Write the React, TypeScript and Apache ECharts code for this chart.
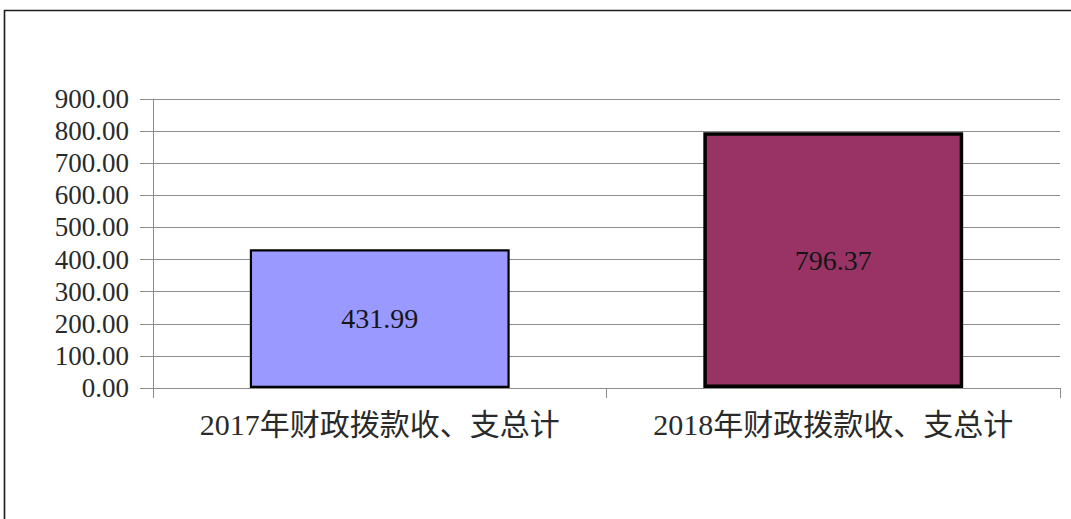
import React, { useEffect, useRef } from "react";
import * as echarts from "echarts";

const categories = ["2017年财政拨款收、支总计", "2018年财政拨款收、支总计"];
const values = [431.99, 796.37];
const barColors = ["#9999ff", "#993366"];
const barBorderWidths = [2.2, 3.5];
const yMin = 0;
const yMax = 900;
const yInterval = 100;

export default function App() {
  const ref = useRef<HTMLDivElement>(null);
  useEffect(() => {
    document.body.style.margin = "0";
    const chart = echarts.init(ref.current!, null, { renderer: "svg" });
    chart.setOption({
      animation: false,
      backgroundColor: "#ffffff",
      grid: { left: 153, right: 11, top: 99, bottom: 131 },
      graphic: [
        {
          type: "rect",
          shape: { x: 4.5, y: 10.5, width: 1200, height: 700 },
          style: { fill: "none", stroke: "#1a1a1a", lineWidth: 1.6 },
          silent: true,
        },
      ],
      xAxis: {
        type: "category",
        data: categories,
        axisLine: { show: true, lineStyle: { color: "#8c8c8c", width: 1 } },
        axisTick: { show: true, length: 10, lineStyle: { color: "#8c8c8c" } },
        axisLabel: {
          interval: 0,
          hideOverlap: false,
          fontSize: 30,
          margin: 21,
          color: "#2a2a2a",
          fontFamily: "'Liberation Serif', 'Noto Sans CJK SC', serif",
        },
      },
      yAxis: {
        type: "value",
        min: yMin,
        max: yMax,
        interval: yInterval,
        axisLine: { show: true, lineStyle: { color: "#8c8c8c", width: 1 } },
        axisTick: { show: true, length: 13, lineStyle: { color: "#8c8c8c" } },
        splitLine: { show: true, lineStyle: { color: "#8c8c8c", width: 1 } },
        axisLabel: {
          fontSize: 27,
          margin: 24,
          color: "#2a2a2a",
          fontFamily: "'Liberation Serif', serif",
          formatter: (v: number) => v.toFixed(2),
        },
      },
      series: [
        {
          type: "bar",
          barWidth: "57.3%",
          data: values.map((v, i) => ({
            value: v,
            itemStyle: {
              color: barColors[i],
              borderColor: "#000",
              borderWidth: barBorderWidths[i],
            },
          })),
          label: {
            show: true,
            position: "inside",
            fontSize: 28,
            color: "#151515",
            fontFamily: "'Liberation Serif', serif",
            formatter: (p: any) => Number(p.value).toFixed(2),
          },
        },
      ],
    });
    return () => chart.dispose();
  }, []);
  return (
    <div
      ref={ref}
      style={{ position: "fixed", left: 0, top: 0, width: 1071, height: 519 }}
    />
  );
}
